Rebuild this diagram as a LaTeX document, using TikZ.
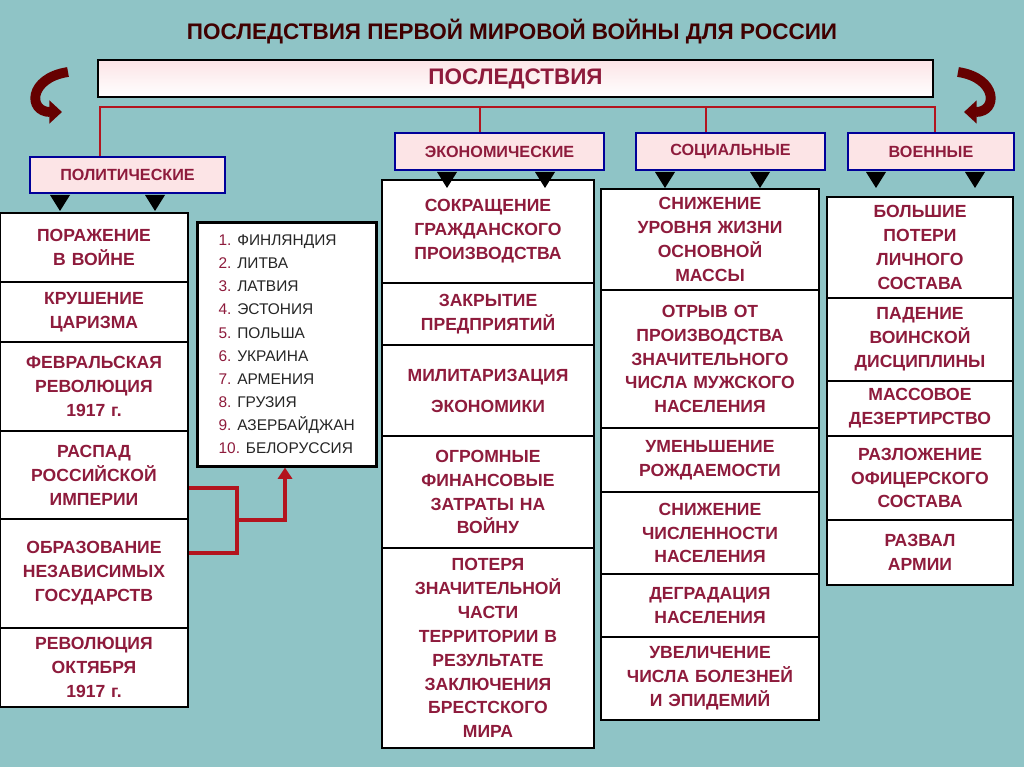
\documentclass[tikz,border=0pt]{standalone}
\usepackage{fontspec}
\setmainfont{Liberation Sans}
\usetikzlibrary{arrows.meta}
\definecolor{sea}{HTML}{8FC4C6}
\definecolor{wine}{HTML}{8E1B3C}
\definecolor{pinkbar}{HTML}{FCE4E6}
\definecolor{rline}{HTML}{B3141E}
\tikzset{
  cell/.style={draw=black, line width=1.6pt, fill=white, text=wine, align=center,
    font=\bfseries\fontsize{12.5}{17}\selectfont, inner sep=2pt},
  head/.style={draw=blue!60!black, line width=1.8pt, fill=pinkbar, text=wine,
    font=\bfseries\fontsize{11.5}{13}\selectfont},
  link/.style={draw=rline, line width=2pt},
  tip/.style={fill=black},
}
% \cell{name}{x1}{y1}{x2}{y2}{text}
\newcommand\cell[6]{\node[cell, minimum width={(#4-#2)*0.025cm}, minimum height={(#5-#3)*0.025cm},
  text width={(#4-#2)*0.025cm-8pt}] (#1) at ({(#2+#4)/2},{(#3+#5)/2}) {#6};}
\newcommand\tri[2]{\fill[tip] (#1-10,#2) -- (#1+10,#2) -- (#1,#2+16) -- cycle;}
\begin{document}
\begin{tikzpicture}[x=0.025cm, y=-0.025cm]
\fill[sea] (0,0) rectangle (1024,767);
\useasboundingbox (0,0) rectangle (1024,767);
\node[font=\bfseries\fontsize{16}{18}\selectfont, text=black!75!red] (title) at (512,32)
  {ПОСЛЕДСТВИЯ ПЕРВОЙ МИРОВОЙ ВОЙНЫ ДЛЯ РОССИИ};
\node[draw=black, line width=1.8pt, top color=pinkbar, bottom color=white, text=wine,
  minimum width={835*0.025cm}, minimum height={37*0.025cm},
  font=\bfseries\fontsize{16}{18}\selectfont] (main) at (515.5,78.5) {ПОСЛЕДСТВИЯ};
% curved arrows
\draw[black!60!red, line width=7pt, -{Triangle[length=9pt,width=16pt]}] (68,72) .. controls (28,78) and (28,112) .. (62,112);
\draw[black!60!red, line width=7pt, -{Triangle[length=9pt,width=16pt]}] (958,72) .. controls (998,78) and (998,112) .. (964,112);
% categories
\node[head, minimum width={195*0.025cm}, minimum height={36*0.025cm}] (pol) at (127.5,175) {ПОЛИТИЧЕСКИЕ};
\node[head, minimum width={209*0.025cm}, minimum height={37*0.025cm}] (eco) at (499.5,151.5) {ЭКОНОМИЧЕСКИЕ};
\node[head, minimum width={189*0.025cm}, minimum height={37*0.025cm}] (soc) at (730.5,151.5) {СОЦИАЛЬНЫЕ};
\node[head, minimum width={166*0.025cm}, minimum height={37*0.025cm}] (mil) at (931,151.5) {ВОЕННЫЕ};
\coordinate (bus) at (100,107);
\draw[link] (pol.north -| bus) -- (bus) -- (935,107) -- (mil.north -| 935,0);
\draw[link] (480,107) -- (eco.north -| 480,0);
\draw[link] (706,107) -- (soc.north -| 706,0);
% political
\cell{p1}{0}{213}{188}{282}{ПОРАЖЕНИЕ\\В ВОЙНЕ}
\cell{p2}{0}{282}{188}{342}{КРУШЕНИЕ\\ЦАРИЗМА}
\cell{p3}{0}{342}{188}{431}{ФЕВРАЛЬСКАЯ\\РЕВОЛЮЦИЯ\\1917 г.}
\cell{p4}{0}{431}{188}{519}{РАСПАД\\РОССИЙСКОЙ\\ИМПЕРИИ}
\cell{p5}{0}{519}{188}{628}{ОБРАЗОВАНИЕ\\НЕЗАВИСИМЫХ\\ГОСУДАРСТВ}
\cell{p6}{0}{628}{188}{707}{РЕВОЛЮЦИЯ\\ОКТЯБРЯ\\1917 г.}
\node[draw=black, line width=1.8pt, fill=white, minimum width={179*0.025cm}, minimum height={244*0.025cm},
  align=left, font=\fontsize{11}{16.4}\selectfont, text=black!85, anchor=north west, inner sep=8pt] (states) at (196,221)
  {\textcolor{wine}{1.} ФИНЛЯНДИЯ\\ \textcolor{wine}{2.} ЛИТВА\\ \textcolor{wine}{3.} ЛАТВИЯ\\
   \textcolor{wine}{4.} ЭСТОНИЯ\\ \textcolor{wine}{5.} ПОЛЬША\\ \textcolor{wine}{6.} УКРАИНА\\
   \textcolor{wine}{7.} АРМЕНИЯ\\ \textcolor{wine}{8.} ГРУЗИЯ\\ \textcolor{wine}{9.} АЗЕРБАЙДЖАН\\
   \textcolor{wine}{10.} БЕЛОРУССИЯ};
\draw[link, line width=3pt] (p4.east |- 0,488) -- (237,488) -- (237,553) -- (p5.east |- 0,553);
\draw[link, line width=3pt, -{Triangle[length=8pt,width=10pt]}] (237,520) -- (285,520) -- (states.south -| 285,0);
% economic
\cell{e1}{382}{180}{594}{283}{СОКРАЩЕНИЕ\\ГРАЖДАНСКОГО\\ПРОИЗВОДСТВА\\[8pt]}
\cell{e2}{382}{283}{594}{345}{ЗАКРЫТИЕ\\ПРЕДПРИЯТИЙ}
\cell{e3}{382}{345}{594}{436}{МИЛИТАРИЗАЦИЯ\\[5pt]ЭКОНОМИКИ}
\cell{e4}{382}{436}{594}{548}{ОГРОМНЫЕ\\ФИНАНСОВЫЕ\\ЗАТРАТЫ НА\\ВОЙНУ}
\cell{e5}{382}{548}{594}{748}{ПОТЕРЯ\\ЗНАЧИТЕЛЬНОЙ\\ЧАСТИ\\ТЕРРИТОРИИ В\\РЕЗУЛЬТАТЕ\\ЗАКЛЮЧЕНИЯ\\БРЕСТСКОГО\\МИРА}
% social
\cell{s1}{601}{189}{819}{290}{СНИЖЕНИЕ\\УРОВНЯ ЖИЗНИ\\ОСНОВНОЙ\\МАССЫ}
\cell{s2}{601}{290}{819}{428}{ОТРЫВ ОТ\\ПРОИЗВОДСТВА\\ЗНАЧИТЕЛЬНОГО\\ЧИСЛА МУЖСКОГО\\НАСЕЛЕНИЯ}
\cell{s3}{601}{428}{819}{492}{УМЕНЬШЕНИЕ\\РОЖДАЕМОСТИ}
\cell{s4}{601}{492}{819}{574}{СНИЖЕНИЕ\\ЧИСЛЕННОСТИ\\НАСЕЛЕНИЯ}
\cell{s5}{601}{574}{819}{637}{ДЕГРАДАЦИЯ\\НАСЕЛЕНИЯ}
\cell{s6}{601}{637}{819}{720}{УВЕЛИЧЕНИЕ\\ЧИСЛА БОЛЕЗНЕЙ\\И ЭПИДЕМИЙ}
% military
\cell{m1}{827}{197}{1013}{298}{БОЛЬШИЕ\\ПОТЕРИ\\ЛИЧНОГО\\СОСТАВА}
\cell{m2}{827}{298}{1013}{381}{ПАДЕНИЕ\\ВОИНСКОЙ\\ДИСЦИПЛИНЫ}
\cell{m3}{827}{381}{1013}{436}{МАССОВОЕ\\ДЕЗЕРТИРСТВО}
\cell{m4}{827}{436}{1013}{520}{РАЗЛОЖЕНИЕ\\ОФИЦЕРСКОГО\\СОСТАВА}
\cell{m5}{827}{520}{1013}{585}{РАЗВАЛ\\АРМИИ}
% pointers
\tri{60}{195}\tri{155}{195}
\tri{447}{172}\tri{545}{172}
\tri{665}{172}\tri{760}{172}
\tri{876}{172}\tri{975}{172}
\end{tikzpicture}
\end{document}
